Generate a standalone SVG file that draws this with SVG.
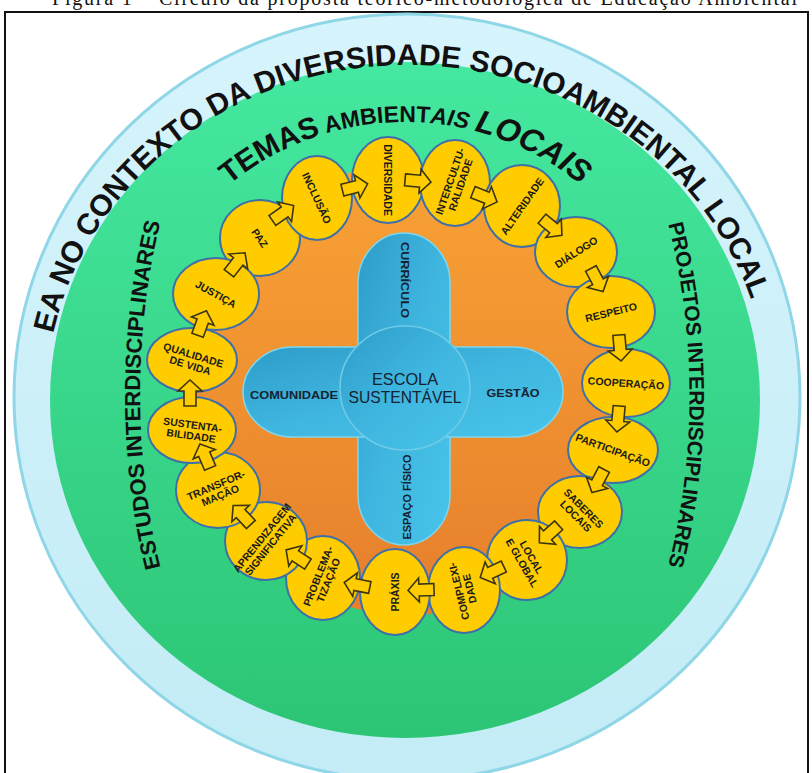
<svg xmlns="http://www.w3.org/2000/svg" xmlns:xlink="http://www.w3.org/1999/xlink" width="812" height="773" viewBox="0 0 812 773">
<defs>
<style>
.nd ellipse{fill:#ffcc00;stroke:#3d6fa8;stroke-width:2}
.nd text{font-family:"Liberation Sans",Arial,sans-serif;font-weight:bold;font-size:10.5px;fill:#1a1a1a;text-anchor:middle}
.arr{fill:#ffcc00;stroke:#3b3510;stroke-width:1.6;stroke-linejoin:miter}
.ring{font-family:"Liberation Sans",Arial,sans-serif;font-weight:bold;fill:#111}
.hub text{font-family:"Liberation Sans",Arial,sans-serif;fill:#16222f;text-anchor:middle}
</style>
<linearGradient id="gBlue" x1="0" y1="0" x2="0" y2="1">
<stop offset="0" stop-color="#d6f4fb"/><stop offset="1" stop-color="#c3ecf6"/>
</linearGradient>
<linearGradient id="gGreen" x1="0" y1="0" x2="0" y2="1">
<stop offset="0" stop-color="#45e8a0"/><stop offset="1" stop-color="#2cc575"/>
</linearGradient>
<linearGradient id="gOrange" x1="0" y1="0" x2="0" y2="1">
<stop offset="0" stop-color="#f8a235"/><stop offset="1" stop-color="#e67f2c"/>
</linearGradient>
<linearGradient id="gCross" x1="0" y1="0" x2="1" y2="1">
<stop offset="0" stop-color="#2d9cc9"/><stop offset="0.5" stop-color="#3fb6df"/><stop offset="1" stop-color="#48c4ea"/>
</linearGradient>
<path id="arrow" class="arr" d="M-13,-6 L2,-6 L2,-12 L13,0 L2,12 L2,6 L-13,6 Z"/>
<path id="pOuter" d="M 45,405 A 362,340 0 0 1 769,405"/>
<path id="pTemas" d="M 127,400 A 278,278 0 0 1 683,400"/>
<path id="pLeft" d="M 202,684 A 265,450 0 0 1 202,106"/>
<path id="pRight" d="M 623,106 A 285,450 0 0 1 623,684"/>
</defs>

<text x="52" y="5" font-family="Liberation Serif,serif" font-size="20" fill="#111" textLength="745">Figura 1 – Círculo da proposta teórico-metodológica de Educação Ambiental</text>
<rect x="5" y="12" width="803" height="800" fill="#fff" stroke="#111" stroke-width="2"/>

<g id="rings">
<ellipse cx="407" cy="397" rx="393" ry="383" fill="url(#gBlue)" stroke="#8fd6e7" stroke-width="3"/>
<ellipse cx="405" cy="400" rx="355" ry="338" fill="url(#gGreen)"/>
<ellipse cx="408" cy="390" rx="222" ry="225" fill="url(#gOrange)"/>
</g>

<g id="ring-texts" class="ring">
<text font-size="30"><textPath href="#pOuter" startOffset="72">EA NO CONTEXTO DA DIVERSIDADE SOCIOAMBIENTAL LOCAL</textPath></text>
<text><textPath href="#pTemas" startOffset="246"><tspan font-size="30">TEMAS</tspan><tspan font-size="23"> AMBIENT</tspan><tspan font-size="23" font-style="italic">AIS </tspan><tspan font-size="32" font-style="italic">LOCAIS</tspan></textPath></text>
<text font-size="22" text-anchor="middle"><textPath href="#pLeft" startOffset="50%">ESTUDOS INTERDISCIPLINARES</textPath></text>
<text font-size="21" text-anchor="middle"><textPath href="#pRight" startOffset="50%">PROJETOS INTERDISCIPLINARES</textPath></text>
</g>

<g id="hub" class="hub">
<rect x="358" y="233" width="92" height="312" rx="46" ry="50" fill="url(#gCross)" stroke="#7fd6ee" stroke-width="1.5"/>
<rect x="243" y="347" width="320" height="90" rx="50" ry="45" fill="url(#gCross)" stroke="#7fd6ee" stroke-width="1.5"/>
<ellipse cx="405" cy="388" rx="65" ry="62" fill="url(#gCross)" stroke="#6fcbe6" stroke-width="1.5"/>
<text x="405" y="385" font-size="17" textLength="66" lengthAdjust="spacingAndGlyphs">ESCOLA</text>
<text x="405" y="403" font-size="17" textLength="113" lengthAdjust="spacingAndGlyphs">SUSTENTÁVEL</text>
<text x="294" y="399" font-size="11" font-weight="bold" textLength="88" lengthAdjust="spacingAndGlyphs">COMUNIDADE</text>
<text x="513" y="397" font-size="11" font-weight="bold" textLength="53" lengthAdjust="spacingAndGlyphs">GESTÃO</text>
<text transform="translate(405,280) rotate(90)" y="4" font-size="11" font-weight="bold" textLength="76" lengthAdjust="spacingAndGlyphs">CURRÍCULO</text>
<text transform="translate(407,497) rotate(-90)" y="4" font-size="10" font-weight="bold" textLength="85" lengthAdjust="spacingAndGlyphs">ESPAÇO FÍSICO</text>
</g>

<g id="nodes">
<g id="n-paz" class="nd"><ellipse cx="260" cy="238" rx="40" ry="38"/><text transform="translate(260,238) rotate(55)" y="4">PAZ</text></g>
<g id="n-inclusao" class="nd"><ellipse cx="317" cy="198" rx="35" ry="42"/><text transform="translate(317,198) rotate(65)" y="4">INCLUSÃO</text></g>
<g id="n-diversidade" class="nd"><ellipse cx="388" cy="180" rx="36" ry="43"/><text transform="translate(388,180) rotate(90)" y="4">DIVERSIDADE</text></g>
<g id="n-interculturalidade" class="nd"><ellipse cx="455" cy="183" rx="35" ry="43"/><text transform="translate(455,183) rotate(-71)"><tspan x="0" y="-1.5">INTERCULTU-</tspan><tspan x="0" y="9.5">RALIDADE</tspan></text></g>
<g id="n-alteridade" class="nd"><ellipse cx="522" cy="206" rx="38" ry="41"/><text transform="translate(522,206) rotate(-55)" y="4">ALTERIDADE</text></g>
<g id="n-dialogo" class="nd"><ellipse cx="576" cy="252" rx="41" ry="35"/><text transform="translate(576,252) rotate(-33)" y="4">DIÁLOGO</text></g>
<g id="n-respeito" class="nd"><ellipse cx="611" cy="312" rx="44" ry="36"/><text transform="translate(611,312) rotate(-14)" y="4">RESPEITO</text></g>
<g id="n-cooperacao" class="nd"><ellipse cx="626" cy="383" rx="44" ry="34"/><text transform="translate(626,383) rotate(4)" y="4">COOPERAÇÃO</text></g>
<g id="n-participacao" class="nd"><ellipse cx="613" cy="450" rx="45" ry="33"/><text transform="translate(613,450) rotate(20)" y="4">PARTICIPAÇÃO</text></g>
<g id="n-saberes" class="nd"><ellipse cx="580" cy="512" rx="42" ry="36"/><text transform="translate(580,512) rotate(45)"><tspan x="0" y="-1.5">SABERES</tspan><tspan x="0" y="9.5">LOCAIS</tspan></text></g>
<g id="n-localglobal" class="nd"><ellipse cx="527" cy="560" rx="40" ry="40"/><text transform="translate(527,560) rotate(60)"><tspan x="0" y="-1.5">LOCAL</tspan><tspan x="0" y="9.5">E GLOBAL</tspan></text></g>
<g id="n-complexidade" class="nd"><ellipse cx="464" cy="590" rx="36" ry="43"/><text transform="translate(464,590) rotate(-104)"><tspan x="0" y="-1.5">COMPLEXI-</tspan><tspan x="0" y="9.5">DADE</tspan></text></g>
<g id="n-praxis" class="nd"><ellipse cx="395" cy="592" rx="35" ry="43"/><text transform="translate(395,592) rotate(-90)" y="4">PRÁXIS</text></g>
<g id="n-problematizacao" class="nd"><ellipse cx="323" cy="578" rx="37" ry="42"/><text transform="translate(323,578) rotate(-68)"><tspan x="0" y="-1.5">PROBLEMA-</tspan><tspan x="0" y="9.5">TIZAÇÃO</tspan></text></g>
<g id="n-aprendizagem" class="nd"><ellipse cx="266" cy="541" rx="41" ry="39"/><text transform="translate(266,541) rotate(-51)" font-size="9.5"><tspan x="0" y="-1.5">APRENDIZAGEM</tspan><tspan x="0" y="9.5">SIGNIFICATIVA</tspan></text></g>
<g id="n-transformacao" class="nd"><ellipse cx="218" cy="490" rx="42" ry="38"/><text transform="translate(218,490) rotate(-23)"><tspan x="0" y="-1.5">TRANSFOR-</tspan><tspan x="0" y="9.5">MAÇÃO</tspan></text></g>
<g id="n-sustentabilidade" class="nd"><ellipse cx="192" cy="430" rx="44" ry="33"/><text transform="translate(192,430) rotate(8)"><tspan x="0" y="-1.5">SUSTENTA-</tspan><tspan x="0" y="9.5">BILIDADE</tspan></text></g>
<g id="n-qualidade" class="nd"><ellipse cx="192" cy="360" rx="45" ry="32"/><text transform="translate(192,360) rotate(17)"><tspan x="0" y="-1.5">QUALIDADE</tspan><tspan x="0" y="9.5">DE VIDA</tspan></text></g>
<g id="n-justica" class="nd"><ellipse cx="216" cy="294" rx="43" ry="36"/><text transform="translate(216,294) rotate(29)" y="4">JUSTIÇA</text></g>
</g>

<g id="connectors">
<use href="#arrow" transform="translate(237,263) rotate(-52)"/>
<use href="#arrow" transform="translate(283,213) rotate(-35)"/>
<use href="#arrow" transform="translate(355,187) rotate(-14)"/>
<use href="#arrow" transform="translate(418,181) rotate(5)"/>
<use href="#arrow" transform="translate(485,197) rotate(22)"/>
<use href="#arrow" transform="translate(552,227) rotate(40)"/>
<use href="#arrow" transform="translate(597,280) rotate(62)"/>
<use href="#arrow" transform="translate(620,348) rotate(85)"/>
<use href="#arrow" transform="translate(618,419) rotate(95)"/>
<use href="#arrow" transform="translate(598,481) rotate(118)"/>
<use href="#arrow" transform="translate(549,534) rotate(138)"/>
<use href="#arrow" transform="translate(492,572) rotate(155)"/>
<use href="#arrow" transform="translate(421,590) rotate(178)"/>
<use href="#arrow" transform="translate(357,585) rotate(191)"/>
<use href="#arrow" transform="translate(297,557) rotate(213)"/>
<use href="#arrow" transform="translate(242,515) rotate(227)"/>
<use href="#arrow" transform="translate(205,456) rotate(247)"/>
<use href="#arrow" transform="translate(190,393) rotate(270)"/>
<use href="#arrow" transform="translate(202,323) rotate(290)"/>
</g>
</svg>
